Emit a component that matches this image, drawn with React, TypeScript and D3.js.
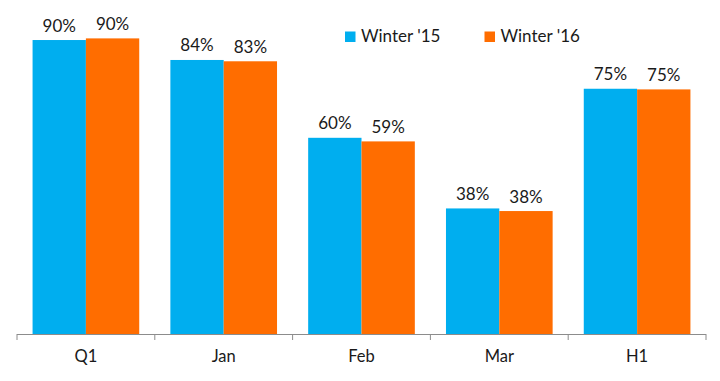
import React from "react";
import * as d3 from "d3";

const categories = ["Q1", "Jan", "Feb", "Mar", "H1"];
const seriesNames = ["Winter '15", "Winter '16"];
const winter15 = [89.9, 83.8, 60.0, 38.4, 75.0];
const winter16 = [90.4, 83.4, 58.9, 37.6, 74.8];
const colors = ["#00AEEF", "#FF6D00"];

const W = 720;
const H = 381;
const FONT = "Lato, 'Open Sans', sans-serif";

export default function App() {
  const x0 = d3
    .scaleBand<string>()
    .domain(categories)
    .range([17, 706])
    .paddingInner(0.226)
    .paddingOuter(0.113);
  const x1 = d3
    .scaleBand<string>()
    .domain(seriesNames)
    .range([0, x0.bandwidth()])
    .padding(0);
  const y = d3.scaleLinear().domain([0, 100]).range([334, 7]);
  const step = x0.step();
  const values = [winter15, winter16];
  const boundaries = d3.range(categories.length + 1).map((i) => 17 + i * step);

  return (
    <svg
      width={W}
      height={H}
      style={{ position: "absolute", left: 0, top: 0, background: "#fff" }}
      fontFamily={FONT}
      fontWeight={400}
    >
      {categories.map((c, i) => (
        <g key={c} transform={`translate(${x0(c)},0)`}>
          {seriesNames.map((s, si) => {
            const v = values[si][i];
            const bx = x1(s)!;
            const bw = x1.bandwidth();
            return (
              <g key={s}>
                <rect x={bx} y={y(v)} width={bw} height={y(0) - y(v)} fill={colors[si]} />
                <text
                  x={bx + bw / 2}
                  y={y(v) - 8.5}
                  textAnchor="middle"
                  fontSize={17}
                  fill="#1a1a1a"
                >
                  {`${Math.round(v)}%`}
                </text>
              </g>
            );
          })}
          <text
            x={x0.bandwidth() / 2}
            y={362}
            textAnchor="middle"
            fontSize={16.5}
            fill="#1a1a1a"
          >
            {c}
          </text>
        </g>
      ))}
      <line x1={17} x2={706} y1={334.5} y2={334.5} stroke="#8c8c8c" strokeWidth={1} />
      {boundaries.map((bx, i) => (
        <line key={i} x1={bx} x2={bx} y1={334} y2={340} stroke="#8c8c8c" strokeWidth={1} />
      ))}
      {seriesNames.map((s, si) => {
        const lx = si === 0 ? 345 : 484.5;
        return (
          <g key={s}>
            <rect x={lx} y={31.5} width={10.5} height={10.5} fill={colors[si]} />
            <text x={lx + 16} y={42} fontSize={17} fill="#1a1a1a">
              {s}
            </text>
          </g>
        );
      })}
    </svg>
  );
}
